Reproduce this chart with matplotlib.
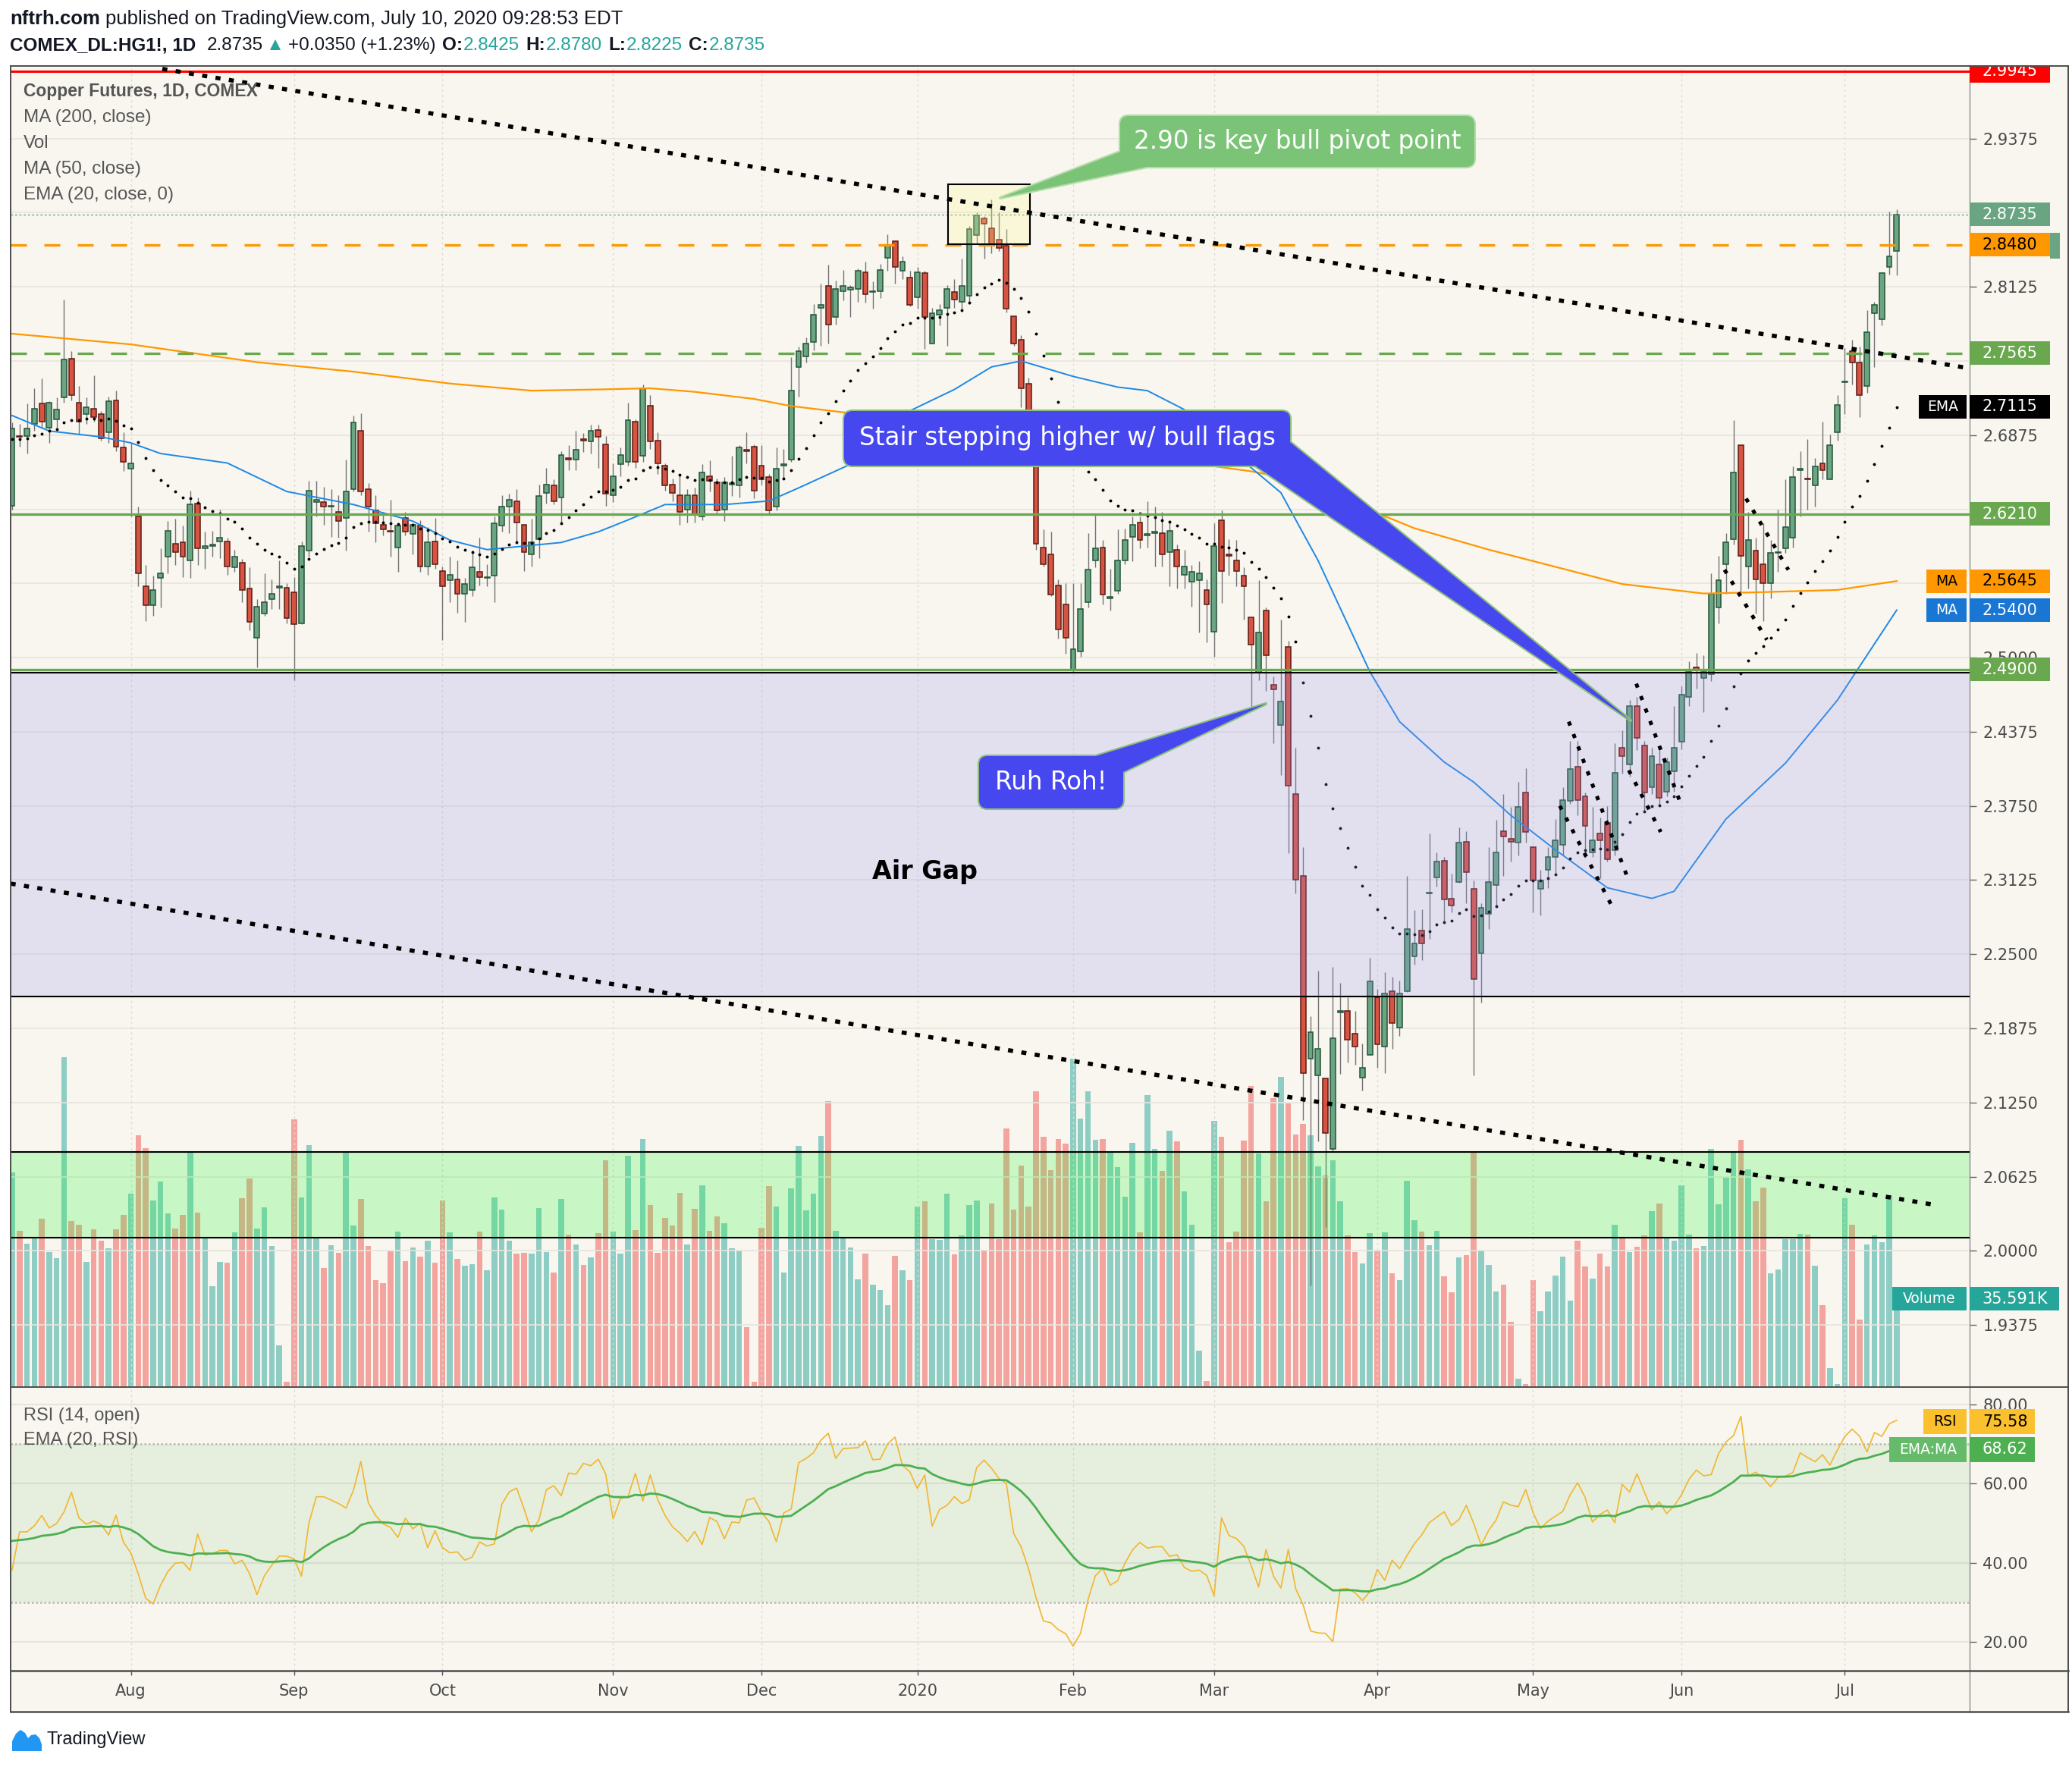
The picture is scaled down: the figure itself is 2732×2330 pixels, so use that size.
import numpy as np
import matplotlib
matplotlib.use("Agg")
import matplotlib.pyplot as plt
from matplotlib import transforms
from matplotlib.patches import Rectangle, Polygon, FancyBboxPatch
from matplotlib.lines import Line2D

# ---------------- HG1! daily bars (bar 1 = 10 Jul 2019) ----------------
OPEN = [
    2.628, 2.687, 2.687, 2.697, 2.714, 2.694, 2.701, 2.719, 2.752, 2.715,
    2.705, 2.710, 2.705, 2.690, 2.717, 2.677, 2.659, 2.619, 2.560, 2.544,
    2.567, 2.585, 2.596, 2.597, 2.582, 2.630, 2.592, 2.594, 2.598, 2.598,
    2.576, 2.580, 2.558, 2.517, 2.537, 2.549, 2.559, 2.559, 2.555, 2.529,
    2.590, 2.631, 2.631, 2.627, 2.623, 2.618, 2.642, 2.691, 2.642, 2.624,
    2.612, 2.607, 2.593, 2.618, 2.604, 2.611, 2.577, 2.598, 2.573, 2.565,
    2.566, 2.554, 2.557, 2.572, 2.567, 2.569, 2.611, 2.627, 2.632, 2.612,
    2.587, 2.600, 2.639, 2.645, 2.635, 2.668, 2.667, 2.684, 2.682, 2.692,
    2.680, 2.637, 2.663, 2.665, 2.699, 2.670, 2.712, 2.683, 2.662, 2.646,
    2.637, 2.625, 2.637, 2.619, 2.653, 2.648, 2.625, 2.646, 2.645, 2.675,
    2.678, 2.662, 2.652, 2.627, 2.662, 2.667, 2.745, 2.754, 2.766, 2.795,
    2.813, 2.787, 2.809, 2.810, 2.811, 2.825, 2.808, 2.809, 2.837, 2.851,
    2.826, 2.820, 2.804, 2.824, 2.765, 2.789, 2.795, 2.808, 2.800, 2.805,
    2.856, 2.870, 2.862, 2.852, 2.847, 2.788, 2.768, 2.731, 2.667, 2.593,
    2.587, 2.561, 2.545, 2.490, 2.505, 2.547, 2.582, 2.593, 2.550, 2.556,
    2.582, 2.602, 2.614, 2.603, 2.605, 2.605, 2.589, 2.591, 2.570, 2.564,
    2.565, 2.557, 2.522, 2.616, 2.587, 2.582, 2.569, 2.534, 2.487, 2.540,
    2.477, 2.443, 2.509, 2.385, 2.316, 2.162, 2.148, 2.145, 2.086, 2.201,
    2.202, 2.183, 2.146, 2.165, 2.214, 2.172, 2.219, 2.188, 2.219, 2.248,
    2.270, 2.301, 2.315, 2.329, 2.297, 2.311, 2.345, 2.305, 2.251, 2.284,
    2.308, 2.354, 2.347, 2.344, 2.386, 2.340, 2.305, 2.321, 2.332, 2.342,
    2.379, 2.408, 2.383, 2.336, 2.352, 2.361, 2.338, 2.424, 2.410, 2.459,
    2.426, 2.391, 2.410, 2.387, 2.404, 2.429, 2.467, 2.492, 2.483, 2.486,
    2.542, 2.579, 2.600, 2.679, 2.577, 2.590, 2.579, 2.563, 2.588, 2.592,
    2.601, 2.658, 2.651, 2.645, 2.664, 2.650, 2.690, 2.732, 2.758, 2.749,
    2.729, 2.790, 2.785, 2.829, 2.8425]
HIGH = [
    2.698, 2.697, 2.714, 2.727, 2.735, 2.716, 2.719, 2.802, 2.758, 2.729,
    2.719, 2.738, 2.708, 2.720, 2.725, 2.690, 2.681, 2.627, 2.578, 2.569,
    2.592, 2.615, 2.617, 2.611, 2.641, 2.635, 2.606, 2.607, 2.625, 2.601,
    2.591, 2.583, 2.576, 2.549, 2.571, 2.566, 2.582, 2.563, 2.568, 2.598,
    2.649, 2.649, 2.644, 2.642, 2.637, 2.667, 2.704, 2.706, 2.647, 2.637,
    2.623, 2.633, 2.612, 2.623, 2.613, 2.616, 2.610, 2.618, 2.577, 2.585,
    2.582, 2.567, 2.590, 2.601, 2.579, 2.619, 2.637, 2.638, 2.642, 2.612,
    2.617, 2.646, 2.660, 2.650, 2.674, 2.679, 2.691, 2.689, 2.696, 2.696,
    2.687, 2.664, 2.677, 2.715, 2.701, 2.730, 2.721, 2.690, 2.664, 2.651,
    2.655, 2.642, 2.643, 2.663, 2.666, 2.651, 2.652, 2.670, 2.679, 2.690,
    2.680, 2.679, 2.655, 2.677, 2.676, 2.753, 2.762, 2.770, 2.798, 2.815,
    2.831, 2.818, 2.827, 2.814, 2.828, 2.834, 2.817, 2.832, 2.857, 2.851,
    2.838, 2.826, 2.829, 2.826, 2.795, 2.798, 2.814, 2.819, 2.836, 2.864,
    2.875, 2.872, 2.886, 2.875, 2.861, 2.788, 2.772, 2.736, 2.672, 2.608,
    2.606, 2.566, 2.563, 2.563, 2.563, 2.605, 2.620, 2.599, 2.575, 2.608,
    2.609, 2.619, 2.619, 2.632, 2.627, 2.623, 2.616, 2.595, 2.591, 2.578,
    2.581, 2.566, 2.613, 2.624, 2.600, 2.599, 2.576, 2.534, 2.565, 2.542,
    2.484, 2.532, 2.514, 2.424, 2.340, 2.198, 2.236, 2.145, 2.239, 2.226,
    2.214, 2.202, 2.175, 2.247, 2.221, 2.235, 2.231, 2.228, 2.316, 2.287,
    2.288, 2.352, 2.336, 2.332, 2.318, 2.357, 2.354, 2.312, 2.293, 2.340,
    2.363, 2.385, 2.374, 2.395, 2.407, 2.341, 2.321, 2.340, 2.364, 2.391,
    2.430, 2.430, 2.386, 2.374, 2.365, 2.375, 2.428, 2.439, 2.464, 2.467,
    2.430, 2.424, 2.422, 2.416, 2.459, 2.476, 2.497, 2.504, 2.502, 2.571,
    2.586, 2.605, 2.700, 2.679, 2.623, 2.601, 2.613, 2.599, 2.625, 2.650,
    2.661, 2.674, 2.684, 2.668, 2.699, 2.688, 2.721, 2.761, 2.768, 2.762,
    2.793, 2.800, 2.825, 2.876, 2.878]
LOW = [
    2.625, 2.678, 2.672, 2.691, 2.694, 2.681, 2.691, 2.715, 2.717, 2.688,
    2.697, 2.699, 2.683, 2.681, 2.674, 2.657, 2.619, 2.560, 2.531, 2.535,
    2.542, 2.571, 2.578, 2.568, 2.567, 2.578, 2.575, 2.585, 2.584, 2.570,
    2.572, 2.547, 2.523, 2.492, 2.535, 2.541, 2.541, 2.529, 2.481, 2.528,
    2.585, 2.619, 2.612, 2.602, 2.601, 2.590, 2.640, 2.637, 2.606, 2.597,
    2.603, 2.585, 2.572, 2.603, 2.587, 2.572, 2.570, 2.575, 2.515, 2.547,
    2.538, 2.530, 2.552, 2.561, 2.560, 2.547, 2.606, 2.605, 2.596, 2.573,
    2.577, 2.584, 2.630, 2.629, 2.613, 2.658, 2.658, 2.673, 2.672, 2.660,
    2.628, 2.631, 2.653, 2.662, 2.660, 2.665, 2.676, 2.655, 2.641, 2.632,
    2.612, 2.614, 2.614, 2.616, 2.640, 2.621, 2.615, 2.636, 2.635, 2.664,
    2.634, 2.646, 2.620, 2.624, 2.650, 2.665, 2.720, 2.749, 2.759, 2.763,
    2.765, 2.781, 2.801, 2.787, 2.800, 2.799, 2.794, 2.803, 2.826, 2.815,
    2.819, 2.796, 2.794, 2.760, 2.765, 2.780, 2.763, 2.795, 2.794, 2.798,
    2.849, 2.836, 2.841, 2.843, 2.791, 2.763, 2.711, 2.684, 2.591, 2.577,
    2.552, 2.516, 2.503, 2.488, 2.501, 2.542, 2.576, 2.545, 2.540, 2.554,
    2.579, 2.581, 2.592, 2.593, 2.577, 2.577, 2.560, 2.558, 2.558, 2.543,
    2.521, 2.513, 2.501, 2.546, 2.569, 2.560, 2.532, 2.456, 2.481, 2.472,
    2.428, 2.401, 2.335, 2.301, 2.110, 1.971, 2.092, 2.020, 2.084, 2.149,
    2.159, 2.157, 2.135, 2.165, 2.154, 2.150, 2.170, 2.181, 2.218, 2.241,
    2.245, 2.263, 2.307, 2.276, 2.285, 2.310, 2.293, 2.148, 2.209, 2.271,
    2.289, 2.316, 2.328, 2.333, 2.344, 2.285, 2.283, 2.306, 2.318, 2.333,
    2.377, 2.367, 2.331, 2.332, 2.314, 2.328, 2.333, 2.402, 2.400, 2.422,
    2.371, 2.385, 2.375, 2.383, 2.387, 2.423, 2.459, 2.474, 2.454, 2.480,
    2.529, 2.554, 2.595, 2.554, 2.558, 2.537, 2.531, 2.550, 2.572, 2.588,
    2.593, 2.619, 2.625, 2.627, 2.650, 2.650, 2.683, 2.705, 2.730, 2.703,
    2.723, 2.745, 2.780, 2.823, 2.8225]
CLOSE = [
    2.693, 2.686, 2.693, 2.710, 2.699, 2.715, 2.709, 2.751, 2.721, 2.699,
    2.711, 2.703, 2.685, 2.716, 2.678, 2.665, 2.664, 2.571, 2.544, 2.557,
    2.571, 2.607, 2.589, 2.585, 2.629, 2.592, 2.594, 2.595, 2.601, 2.577,
    2.585, 2.557, 2.530, 2.543, 2.547, 2.554, 2.560, 2.533, 2.528, 2.594,
    2.641, 2.633, 2.627, 2.628, 2.615, 2.640, 2.698, 2.640, 2.627, 2.613,
    2.608, 2.606, 2.611, 2.606, 2.612, 2.577, 2.597, 2.579, 2.560, 2.570,
    2.554, 2.562, 2.576, 2.568, 2.568, 2.613, 2.627, 2.633, 2.614, 2.589,
    2.597, 2.636, 2.646, 2.632, 2.671, 2.667, 2.675, 2.683, 2.691, 2.686,
    2.638, 2.653, 2.671, 2.700, 2.665, 2.727, 2.682, 2.664, 2.645, 2.639,
    2.623, 2.637, 2.620, 2.656, 2.649, 2.624, 2.648, 2.647, 2.677, 2.674,
    2.641, 2.650, 2.624, 2.659, 2.663, 2.725, 2.758, 2.765, 2.789, 2.797,
    2.781, 2.811, 2.813, 2.812, 2.826, 2.806, 2.809, 2.827, 2.847, 2.829,
    2.834, 2.797, 2.825, 2.787, 2.790, 2.793, 2.811, 2.802, 2.813, 2.861,
    2.873, 2.866, 2.847, 2.845, 2.794, 2.765, 2.727, 2.685, 2.596, 2.579,
    2.553, 2.524, 2.517, 2.507, 2.541, 2.574, 2.592, 2.553, 2.551, 2.582,
    2.599, 2.612, 2.599, 2.604, 2.606, 2.587, 2.607, 2.577, 2.577, 2.572,
    2.571, 2.545, 2.594, 2.573, 2.586, 2.573, 2.560, 2.511, 2.521, 2.502,
    2.473, 2.463, 2.392, 2.313, 2.150, 2.184, 2.170, 2.099, 2.179, 2.202,
    2.178, 2.172, 2.154, 2.227, 2.174, 2.217, 2.192, 2.217, 2.271, 2.259,
    2.259, 2.302, 2.328, 2.296, 2.291, 2.344, 2.319, 2.229, 2.289, 2.311,
    2.336, 2.349, 2.345, 2.374, 2.353, 2.312, 2.312, 2.332, 2.346, 2.380,
    2.406, 2.380, 2.358, 2.346, 2.346, 2.330, 2.403, 2.417, 2.459, 2.432,
    2.386, 2.417, 2.382, 2.412, 2.424, 2.469, 2.488, 2.489, 2.488, 2.554,
    2.565, 2.597, 2.656, 2.586, 2.599, 2.566, 2.563, 2.588, 2.589, 2.610,
    2.652, 2.659, 2.650, 2.661, 2.658, 2.679, 2.713, 2.733, 2.749, 2.721,
    2.774, 2.797, 2.824, 2.838, 2.8735]
VOLUME_K = [
    86.6, 63.1, 57.7, 60.4, 67.8, 54.6, 51.9, 133.2, 66.9, 65.4,
    50.6, 63.5, 58.9, 56.0, 63.5, 69.4, 78.0, 101.6, 96.4, 75.2,
    82.9, 70.0, 64.1, 69.4, 94.9, 70.3, 60.4, 40.8, 50.6, 50.3,
    62.3, 76.1, 84.1, 64.1, 72.4, 56.8, 16.9, 2.1, 108.0, 76.4,
    97.6, 60.4, 47.9, 57.1, 54.3, 94.9, 65.1, 75.8, 56.8, 43.0,
    42.0, 54.9, 62.6, 50.9, 56.2, 52.5, 59.2, 50.3, 75.2, 62.3,
    51.6, 49.1, 49.7, 62.6, 47.0, 76.4, 71.5, 58.9, 54.0, 54.3,
    54.0, 72.1, 54.6, 46.3, 75.8, 61.4, 57.4, 49.4, 52.2, 62.0,
    91.5, 62.6, 54.0, 93.3, 63.2, 100.0, 73.3, 54.3, 68.1, 65.1,
    78.3, 57.4, 71.8, 81.3, 62.9, 68.7, 66.0, 55.9, 55.2, 24.2,
    2.1, 64.4, 81.0, 72.7, 46.3, 80.1, 97.3, 71.2, 78.0, 101.3,
    115.4, 62.9, 60.2, 56.2, 43.6, 54.0, 41.4, 39.3, 33.1, 52.8,
    47.0, 43.0, 72.7, 74.9, 59.8, 59.5, 78.0, 53.4, 61.1, 73.3,
    75.2, 55.5, 74.0, 59.8, 104.3, 71.5, 89.3, 72.7, 119.4, 101.0,
    87.5, 100.0, 98.2, 132.6, 108.3, 119.4, 99.7, 100.0, 94.8, 88.7,
    76.7, 98.5, 62.3, 117.9, 96.1, 87.2, 103.4, 99.1, 78.9, 65.4,
    14.7, 2.5, 107.4, 101.0, 58.3, 62.6, 99.4, 121.5, 94.2, 74.9,
    116.6, 125.2, 114.5, 101.9, 106.2, 101.6, 89.0, 85.3, 91.5, 74.9,
    61.1, 54.6, 50.0, 62.0, 54.9, 62.3, 46.0, 43.0, 83.2, 67.2,
    62.6, 57.1, 62.9, 44.8, 38.1, 52.2, 53.1, 94.8, 55.2, 49.4,
    38.7, 41.4, 26.4, 3.4, 1.2, 43.0, 30.7, 38.4, 45.1, 52.5,
    35.0, 59.2, 48.5, 43.9, 54.0, 48.5, 65.4, 60.5, 54.6, 56.5,
    61.1, 70.9, 74.0, 60.2, 58.9, 81.3, 61.4, 55.9, 56.8, 96.1,
    73.7, 84.4, 94.8, 99.7, 87.8, 74.9, 80.4, 46.0, 47.3, 59.8,
    59.8, 61.7, 61.4, 49.1, 32.9, 7.7, 1.2, 76.1, 65.4, 27.1,
    57.4, 61.1, 58.3, 77.4, 35.591]

# moving averages as drawn (they need history from before the window)
MA200_BAR = [1, 17, 34, 47, 60, 71, 80, 87, 93, 101, 106, 114, 127, 135, 139, 148,
             161, 168, 173, 181, 190, 200, 218, 229, 236, 247, 255]
MA200_VAL = [2.773, 2.764, 2.749, 2.741, 2.731, 2.725, 2.726, 2.727, 2.724, 2.718, 2.712,
             2.706, 2.702, 2.699, 2.694, 2.677, 2.663, 2.657, 2.651, 2.632, 2.609, 2.591,
             2.562, 2.554, 2.555, 2.557, 2.5645]
MA50_BAR = [1, 6, 13, 17, 21, 30, 34, 38, 47, 55, 60, 65, 75, 80, 84, 89, 97, 103, 107,
            114, 122, 128, 133, 137, 144, 150, 154, 159, 163, 168, 172, 177, 184, 188,
            194, 198, 203, 209, 216, 222, 225, 232, 240, 247, 255]
MA50_VAL = [2.704, 2.691, 2.686, 2.681, 2.672, 2.664, 2.652, 2.640, 2.629, 2.615, 2.599,
            2.591, 2.597, 2.606, 2.616, 2.629, 2.629, 2.632, 2.643, 2.663, 2.708, 2.726,
            2.745, 2.750, 2.737, 2.728, 2.725, 2.709, 2.685, 2.660, 2.639, 2.582, 2.488,
            2.446, 2.412, 2.395, 2.367, 2.338, 2.306, 2.297, 2.303, 2.364, 2.411, 2.464,
            2.540]
# indicator values at the first visible bar (they carry history from before the window)
EMA20_START = 2.684
RSI_START = 38.2
RSI_EMA_START = 45.5

MONTH_BARS = [17, 39, 59, 82, 102, 123, 144, 163, 185, 206, 226, 248]
MONTH_LABELS = ["Aug", "Sep", "Oct", "Nov", "Dec", "2020", "Feb", "Mar", "Apr", "May", "Jun", "Jul"]

# drawn trend lines / flags: ((bar, price), (bar, price))
TRENDLINES = [((21.24, 2.9962), (264.83, 2.7438)), ((0.8, 2.3095), (260.5, 2.0383))]
FLAGS = [((210.8, 2.446), (218.7, 2.315)), ((209.6, 2.375), (216.5, 2.292)),
         ((219.9, 2.478), (225.7, 2.380)), ((218.9, 2.405), (223.2, 2.353)),
         ((234.7, 2.634), (240.4, 2.574)), ((231.8, 2.574), (237.5, 2.515))]

# ---------------- look ----------------
BG = "#f8f6ef"
UP_FILL, UP_EDGE = "#6ba583", "#225437"
DN_FILL, DN_EDGE = "#d75442", "#5b1a13"
WICK = "#737375"
GRID = "#e6e4de"
AXTXT = "#4a4a4a"
DARK = "#131722"
TEAL = "#26a69a"
GREEN = "#6aa84f"
ORANGE = "#ff9800"
UI = ["Liberation Sans", "DejaVu Sans"]
AXFS = 15

W, H = 2732, 2330
fig = plt.figure(figsize=(W / 100, H / 100), dpi=100)
fig.patch.set_facecolor("white")
PX = transforms.Affine2D().scale(1, -1).translate(0, H)   # image pixels, y down

XL, XR, XF = 14, 2597, 2727
YT, YM, YR, YB = 87, 1829, 2203, 2257


def frac(x0, y0, x1, y1):
    return [x0 / W, 1 - y1 / H, (x1 - x0) / W, (y1 - y0) / H]


fig.add_artist(Rectangle((XL, YT), XF - XL, YB - YT, transform=PX, fc=BG, ec="none", zorder=-2))
fig.add_artist(Line2D([XR, XR], [YT, YB], transform=PX, color="#8a8a8a", lw=1.0, zorder=-1))

ax = fig.add_axes(frac(XL, YT, XR, YM))
ax_vol = ax.twinx()
ax_rsi = fig.add_axes(frac(XL, YM, XR, YR), sharex=ax)
ax.set_zorder(2); ax_vol.set_zorder(1); ax_rsi.set_zorder(2)
for a in (ax, ax_vol, ax_rsi):
    a.patch.set_visible(False)
    for s in a.spines.values():
        s.set_visible(False)

n = min(len(OPEN), len(HIGH), len(LOW), len(CLOSE), len(VOLUME_K))
o, h, l, c = (np.array(v[:n]) for v in (OPEN, HIGH, LOW, CLOSE))
vol = np.array(VOLUME_K[:n])
x = np.arange(1, n + 1)
up = c >= o

# ---------------- volume (behind price) ----------------
ax_vol.bar(x, vol, width=0.77, color=np.where(up, TEAL, "#ef5350"), alpha=0.5, linewidth=0)
ax_vol.set_ylim(0, 533)
ax_vol.set_yticks([])
ax_vol.tick_params(axis="both", length=0, labelbottom=False, labelright=False, labelleft=False)

# ---------------- price panel ----------------
ax.set_xlim(0.796, 264.83)
ax.set_ylim(1.88513, 2.99866)
yt = np.arange(1.9375, 2.99, 0.0625)
for v in yt:
    ax.axhline(v, color=GRID, lw=1.2, zorder=0.5)
for b in MONTH_BARS:
    ax.axvline(b, color="#dcdad3", lw=1.0, ls=(0, (2, 3)), zorder=0.5)

ax.vlines(x, l, h, color=WICK, lw=1.0, zorder=3)
ax.bar(x, c - o, bottom=o, width=0.7, color=np.where(up, UP_FILL, DN_FILL),
       edgecolor=np.where(up, UP_EDGE, DN_EDGE), linewidth=1.1, zorder=4)

ax.plot(MA200_BAR, MA200_VAL, color=ORANGE, lw=1.6, zorder=5)
ax.plot(MA50_BAR, MA50_VAL, color="#1e88e5", lw=1.4, zorder=5)

a20 = 2 / 21
ema = [EMA20_START]
for v in c[1:]:
    ema.append(a20 * v + (1 - a20) * ema[-1])
ax.plot(x, ema, ls="none", marker="o", ms=2.8, mec="none", color="black", zorder=5)

# zones
ax.axhspan(2.2145, 2.4875, color=(150 / 255, 150 / 255, 240 / 255), alpha=0.22, lw=0, zorder=6)
ax.axhspan(2.0110, 2.0835, color=(0.09, 0.98, 0.15), alpha=0.21, lw=0, zorder=6)
for v in (2.4875, 2.2145, 2.0835, 2.0110):
    ax.axhline(v, color="black", lw=1.5, zorder=7)

# levels
ax.axhline(2.9945, color="#ff0000", lw=2.2, zorder=7)
ax.axhline(2.8735, color="#6aa583", lw=1.0, ls=(0, (2, 2)), zorder=7)
ax.axhline(2.848, color=ORANGE, lw=2.4, ls=(0, (6.3, 6.9)), zorder=7)
ax.axhline(2.7565, color=GREEN, lw=2.4, ls=(0, (6.3, 6.9)), zorder=7)
ax.axhline(2.621, color=GREEN, lw=2.4, zorder=7)
ax.axhline(2.49, color=GREEN, lw=2.4, zorder=7)

for (b0, p0), (b1, p1) in TRENDLINES:
    ax.plot([b0, b1], [p0, p1], color="black", lw=4.0, ls=(0, (1.2, 2.0)), zorder=8)
for (b0, p0), (b1, p1) in FLAGS:
    ax.plot([b0, b1], [p0, p1], color="black", lw=3.6, ls=(0, (1.1, 2.4)), zorder=8)

ax.add_patch(Rectangle((127.1, 2.8486), 11.1, 0.0503, fc=(1, 0.98, 0.59, 0.25),
                       ec="black", lw=1.5, zorder=7.5))

# price scale; levels hidden behind value tags in the reference stay unlabeled
hidden = (2.875, 2.75, 2.625, 2.5625)
ax.yaxis.tick_right()
ax.set_yticks(yt)
ax.set_yticklabels(["" if any(abs(v - hv) < 1e-6 for hv in hidden) else f"{v:.4f}" for v in yt])
ax.tick_params(axis="y", length=6.5, width=1, color="#666", labelsize=AXFS, labelcolor=AXTXT, pad=6)
ax.tick_params(axis="x", length=0, labelbottom=False)

# ---------------- RSI panel ----------------
d = np.diff(o)
s0 = np.mean(np.abs(d))
ag, al = s0 * RSI_START / 100, s0 * (1 - RSI_START / 100)
rsi = [RSI_START]
for v in d:
    ag = (ag * 13 + max(v, 0)) / 14
    al = (al * 13 + max(-v, 0)) / 14
    rsi.append(100 - 100 / (1 + ag / al))
rsi_ema = [RSI_EMA_START]
for v in rsi[1:]:
    rsi_ema.append(a20 * v + (1 - a20) * rsi_ema[-1])

ax_rsi.set_ylim(12.72, 84.35)
for v in (20, 40, 60, 80):
    ax_rsi.axhline(v, color=GRID, lw=1.5, zorder=0.5)
for b in MONTH_BARS:
    ax_rsi.axvline(b, color="#dcdad3", lw=1.0, ls=(0, (2, 3)), zorder=0.5)
ax_rsi.axhspan(30, 70, color="#4caf50", alpha=0.1, lw=0, zorder=0.6)
for v in (30, 70):
    ax_rsi.axhline(v, color="#b8b8b0", lw=1.8, ls=(0, (1, 1.2)), zorder=1)
ax_rsi.plot(x, rsi, color="#f2b630", lw=1.2, zorder=3)
ax_rsi.plot(x, rsi_ema, color="#4caf50", lw=2.0, zorder=3)
ax_rsi.yaxis.tick_right()
ax_rsi.set_yticks([20, 40, 60, 80])
ax_rsi.set_yticklabels(["20.00", "40.00", "60.00", "80.00"])
ax_rsi.tick_params(axis="y", length=6.5, width=1, color="#666", labelsize=AXFS, labelcolor=AXTXT, pad=6)
ax_rsi.set_xticks(MONTH_BARS)
ax_rsi.set_xticklabels(MONTH_LABELS)
ax_rsi.tick_params(axis="x", direction="out", length=4.3, width=1, color="#555",
                   labelsize=AXFS, labelcolor=AXTXT, pad=8)


# ---------------- right-axis value tags ----------------
def value_tag(axis, y, txt, bg, fg, hgt, right=1.0410, tag=None, tag_left=None,
              tag_bg=None, tag_fg=None, clip=False):
    tr = transforms.blended_transform_factory(axis.transAxes, axis.transData)
    arts = [Rectangle((1.0, y - hgt / 2), right - 1.0, hgt, transform=tr, fc=bg, ec="none", zorder=30),
            axis.text(1.0065, y, txt, transform=tr, color=fg, fontsize=AXFS, ha="left", va="center", zorder=31)]
    axis.add_patch(arts[0])
    if tag:
        r = Rectangle((tag_left, y - hgt / 2), 0.9985 - tag_left, hgt, transform=tr,
                      fc=tag_bg, ec="none", zorder=30)
        axis.add_patch(r)
        t = axis.text((tag_left + 0.9985) / 2, y, tag, transform=tr, color=tag_fg,
                      fontsize=13.5, ha="center", va="center", zorder=31)
        arts += [r, t]
    for a in arts:
        if clip:
            a.set_clip_box(transforms.TransformedBbox(
                transforms.Bbox([[0.9, 0.0], [1.1, 1.0]]), axis.transAxes))
            a.set_clip_on(True)
        else:
            a.set_clip_on(False)


PH = 0.0198
value_tag(ax, 2.9945, "2.9945", "#ff0000", "white", PH, clip=True)
value_tag(ax, 2.8735, "2.8735", "#6aa583", "white", PH)
ax.add_patch(Rectangle((1.0410, 2.836), 0.005, 0.022, transform=transforms.blended_transform_factory(
    ax.transAxes, ax.transData), fc="#6aa583", ec="none", clip_on=False, zorder=29))
value_tag(ax, 2.848, "2.8480", ORANGE, "black", PH)
value_tag(ax, 2.7565, "2.7565", GREEN, "white", PH)
value_tag(ax, 2.7115, "2.7115", "black", "white", PH, tag="EMA", tag_left=0.974,
          tag_bg="black", tag_fg="white")
value_tag(ax, 2.621, "2.6210", GREEN, "white", PH)
value_tag(ax, 2.5645, "2.5645", ORANGE, "black", PH, tag="MA", tag_left=0.978,
          tag_bg=ORANGE, tag_fg="black")
value_tag(ax, 2.54, "2.5400", "#1976d2", "white", PH, tag="MA", tag_left=0.978,
          tag_bg="#1976d2", tag_fg="white")
value_tag(ax, 2.49, "2.4900", GREEN, "white", PH)
value_tag(ax_vol, vol[-1], "35.591K", TEAL, "white", 9.5, right=1.0455, tag="Volume",
          tag_left=0.9605, tag_bg=TEAL, tag_fg="white")
value_tag(ax_rsi, 75.58, "75.58", "#fbc02d", "black", 6.3, right=1.0333, tag="RSI",
          tag_left=0.9764, tag_bg="#fbc02d", tag_fg="black")
value_tag(ax_rsi, 68.62, "68.62", "#4caf50", "white", 6.3, right=1.0333, tag="EMA:MA",
          tag_left=0.959, tag_bg="#66bb6a", tag_fg="white")

# ---------------- frame ----------------
for (x0, y0), (x1, y1), lw in [((XL, YT), (XF, YT), 1.4), ((XL, YM), (XF, YM), 1.4),
                               ((XL, YR), (XF, YR), 1.8), ((XL, YB), (XF, YB), 1.8),
                               ((XL, YT), (XL, YB), 1.4), ((XF, YT), (XF, YB), 1.4)]:
    fig.add_artist(Line2D([x0, x1], [y0, y1], transform=PX, color="#4d4d4d", lw=lw, zorder=11))


# ---------------- header / legends ----------------
def ptext(xp, yp, s, **kw):
    return fig.text(xp / W, 1 - yp / H, s, **kw)


def text_runs(xp, yp, runs, size):
    rend = fig.canvas.get_renderer()
    for s, col, wt, gap in runs:
        t = ptext(xp, yp, s, color=col, fontsize=size, fontweight=wt, family=UI,
                  ha="left", va="center")
        xp += t.get_window_extent(rend).width + gap


text_runs(13, 25, [("nftrh.com", DARK, "bold", 7),
                   ("published on TradingView.com, July 10, 2020 09:28:53 EDT", DARK, "normal", 0)], 18.5)
text_runs(13, 60, [("COMEX_DL:HG1!, 1D", DARK, "bold", 15), ("2.8735", DARK, "normal", 3),
                   ("\u25b2", TEAL, "normal", 6), ("+0.0350 (+1.23%)", DARK, "normal", 8),
                   ("O:", DARK, "bold", 1), ("2.8425", TEAL, "normal", 8),
                   ("H:", DARK, "bold", 1), ("2.8780", TEAL, "normal", 8),
                   ("L:", DARK, "bold", 1), ("2.8225", TEAL, "normal", 8),
                   ("C:", DARK, "bold", 1), ("2.8735", TEAL, "normal", 0)], 17.5)

LEGEND = [("Copper Futures, 1D, COMEX", 121, "bold", 16.5), ("MA (200, close)", 155, "normal", 17.5),
          ("Vol", 189, "normal", 17.5), ("MA (50, close)", 223, "normal", 17.5),
          ("EMA (20, close, 0)", 257, "normal", 17.5), ("RSI (14, open)", 1867, "normal", 17),
          ("EMA (20, RSI)", 1899, "normal", 17)]
for s, yp, wt, fs in LEGEND:
    ptext(31, yp, s, color="#555555", fontsize=fs, fontweight=wt, family=UI,
          ha="left", va="center", zorder=12)


# ---------------- callouts ----------------
def callout(box, text, face, edge, tip, b1, b2, fs=23.5):
    x0, y0, x1, y1 = box
    style = "round,pad=0,rounding_size=11"
    fig.add_artist(FancyBboxPatch((x0, y0), x1 - x0, y1 - y0, boxstyle=style, transform=PX,
                                  fc=face, ec=edge, lw=3.0, zorder=12))
    fig.add_artist(Polygon([tip, b1, b2], closed=True, transform=PX, fc=face, ec=edge,
                           lw=3.0, joinstyle="round", zorder=12.1))
    fig.add_artist(FancyBboxPatch((x0, y0), x1 - x0, y1 - y0, boxstyle=style, transform=PX,
                                  fc=face, ec="none", zorder=12.2))
    fig.add_artist(Polygon([tip, b1, b2], closed=True, transform=PX, fc=face, ec="none",
                           zorder=12.3))
    ptext((x0 + x1) / 2, (y0 + y1) / 2, text, color="white", fontsize=fs, ha="center",
          va="center", zorder=12.5)


callout((1477, 153, 1944, 220), "2.90 is key bull pivot point", "#7bc477", "#b5dcaa",
        (1319, 261), (1477, 200), (1512, 220))
callout((1113, 542, 1701, 614), "Stair stepping higher w/ bull flags", "#4747f0", "#8ec07c",
        (2150, 950), (1655, 614), (1701, 583))
callout((1291, 997, 1481, 1066), "Ruh Roh!", "#4747f0", "#8ec07c",
        (1669, 928), (1445, 997), (1481, 1018))

ptext(1220, 1150, "Air Gap", color="black", fontsize=24, fontweight="bold", ha="center",
      va="center", zorder=12)

# ---------------- TradingView mark ----------------
fig.add_artist(Polygon([(16, 2309), (16, 2296), (21, 2286), (27, 2281), (33, 2285), (37, 2292),
                        (41, 2288), (47, 2287), (52, 2292), (55, 2300), (55, 2309)],
                       closed=True, transform=PX, fc="#2196f3", ec="none"))
ptext(62, 2294, "TradingView", color=DARK, fontsize=17, family=UI, ha="left", va="center")

fig.savefig("out.png", dpi=100, facecolor="white")
